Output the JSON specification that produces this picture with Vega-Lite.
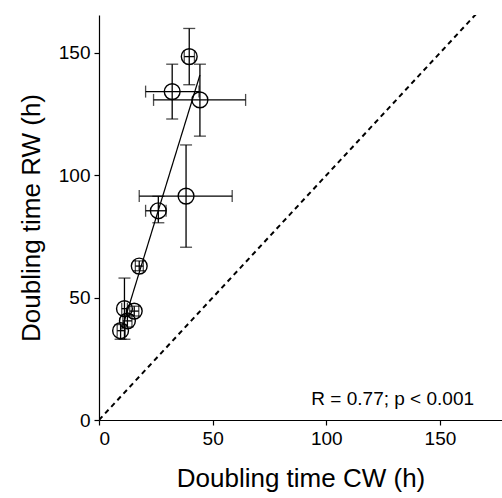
{
  "$schema": "https://vega.github.io/schema/vega-lite/v6.json",
  "autosize": "none",
  "padding": {"left": 99, "top": 15, "right": 0, "bottom": 78},
  "width": 403,
  "height": 405,
  "background": "white",
  "config": {
    "view": {"stroke": null},
    "font": "Liberation Sans",
    "axis": {
      "grid": false,
      "domainColor": "black",
      "domainWidth": 1.2,
      "tickColor": "black",
      "tickWidth": 1.2,
      "tickSize": 5,
      "labelColor": "black",
      "titleColor": "black",
      "labelFont": "Liberation Sans",
      "titleFont": "Liberation Sans",
      "labelFontSize": 19,
      "titleFontSize": 26,
      "titleFontWeight": "normal",
      "labelPadding": 4
    }
  },
  "datasets": {
    "pts": [
      {"x": 39.7, "y": 148.5, "xlo": 37.5, "xhi": 42, "ylo": 137, "yhi": 160},
      {"x": 32.2, "y": 134.2, "xlo": 20.5, "xhi": 44, "ylo": 123, "yhi": 145.4},
      {"x": 44.4, "y": 130.8, "xlo": 24, "xhi": 64.5, "ylo": 116, "yhi": 145.4},
      {"x": 38.3, "y": 91.5, "xlo": 17.7, "xhi": 58.6, "ylo": 70.6, "yhi": 112.4},
      {"x": 26.1, "y": 85.5, "xlo": 20.5, "xhi": 29.5, "ylo": 80.6, "yhi": 91.4},
      {"x": 17.7, "y": 62.9, "xlo": 16, "xhi": 19.5, "ylo": 61, "yhi": 65},
      {"x": 11.2, "y": 45.5, "xlo": 10, "xhi": 12.5, "ylo": 33, "yhi": 58},
      {"x": 15.5, "y": 44.5, "xlo": 13.5, "xhi": 17.5, "ylo": 42.5, "yhi": 46.5},
      {"x": 12.5, "y": 40.5, "xlo": 10.5, "xhi": 14.5, "ylo": 38, "yhi": 43},
      {"x": 9.5, "y": 36.5, "xlo": 8, "xhi": 11.5, "ylo": 33, "yhi": 39}
    ],
    "identity": [{"x": 0, "y": 0}, {"x": 166, "y": 166}],
    "fit": [{"x": 10, "y": 37}, {"x": 44.4, "y": 141}],
    "label": [{"x": 165, "y": 6, "t": "R = 0.77; p < 0.001"}]
  },
  "layer": [
    {
      "data": {"name": "identity"},
      "mark": {"type": "line", "color": "black", "strokeWidth": 2, "strokeDash": [5, 4], "clip": true},
      "encoding": {
        "x": {"field": "x", "type": "quantitative", "scale": {"domain": [0, 177.3], "nice": false, "zero": false},
              "axis": {"values": [0, 50, 100, 150], "title": "Doubling time CW (h)", "titlePadding": 17}},
        "y": {"field": "y", "type": "quantitative", "scale": {"domain": [0, 165.5], "nice": false, "zero": false},
              "axis": {"values": [0, 50, 100, 150], "title": "Doubling time RW (h)", "titlePadding": 14}}
      }
    },
    {
      "data": {"name": "fit"},
      "mark": {"type": "line", "color": "black", "strokeWidth": 1.2},
      "encoding": {
        "x": {"field": "x", "type": "quantitative"},
        "y": {"field": "y", "type": "quantitative"}
      }
    },
    {
      "data": {"name": "pts"},
      "mark": {"type": "rule", "color": "black", "strokeWidth": 1.3},
      "encoding": {
        "x": {"field": "x", "type": "quantitative"},
        "y": {"field": "ylo", "type": "quantitative"},
        "y2": {"field": "yhi"}
      }
    },
    {
      "data": {"name": "pts"},
      "mark": {"type": "rule", "color": "black", "strokeWidth": 1.3},
      "encoding": {
        "y": {"field": "y", "type": "quantitative"},
        "x": {"field": "xlo", "type": "quantitative"},
        "x2": {"field": "xhi"}
      }
    },
    {
      "data": {"name": "pts"},
      "mark": {"type": "tick", "color": "black", "orient": "horizontal", "size": 12, "thickness": 1.3},
      "encoding": {
        "x": {"field": "x", "type": "quantitative"},
        "y": {"field": "ylo", "type": "quantitative"}
      }
    },
    {
      "data": {"name": "pts"},
      "mark": {"type": "tick", "color": "black", "orient": "horizontal", "size": 12, "thickness": 1.3},
      "encoding": {
        "x": {"field": "x", "type": "quantitative"},
        "y": {"field": "yhi", "type": "quantitative"}
      }
    },
    {
      "data": {"name": "pts"},
      "mark": {"type": "tick", "color": "black", "orient": "vertical", "size": 12, "thickness": 1.3},
      "encoding": {
        "x": {"field": "xlo", "type": "quantitative"},
        "y": {"field": "y", "type": "quantitative"}
      }
    },
    {
      "data": {"name": "pts"},
      "mark": {"type": "tick", "color": "black", "orient": "vertical", "size": 12, "thickness": 1.3},
      "encoding": {
        "x": {"field": "xhi", "type": "quantitative"},
        "y": {"field": "y", "type": "quantitative"}
      }
    },
    {
      "data": {"name": "pts"},
      "mark": {"type": "point", "shape": "circle", "filled": false, "color": "black", "strokeWidth": 1.4, "size": 250, "opacity": 1},
      "encoding": {
        "x": {"field": "x", "type": "quantitative"},
        "y": {"field": "y", "type": "quantitative"}
      }
    },
    {
      "data": {"name": "label"},
      "mark": {"type": "text", "align": "right", "baseline": "alphabetic", "fontSize": 19, "color": "black", "font": "Liberation Sans"},
      "encoding": {
        "x": {"field": "x", "type": "quantitative"},
        "y": {"field": "y", "type": "quantitative"},
        "text": {"field": "t"}
      }
    }
  ]
}
